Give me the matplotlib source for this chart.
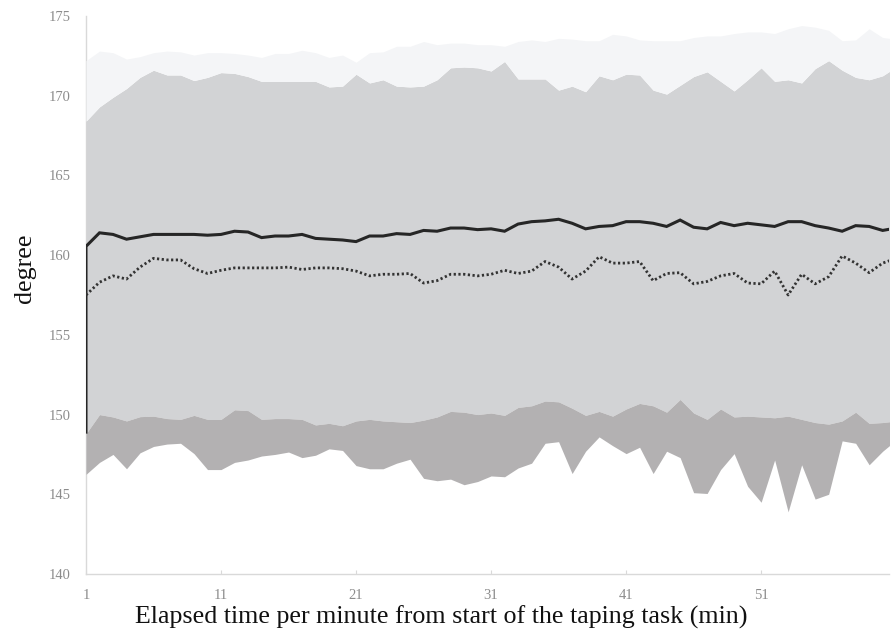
import numpy as np
import matplotlib
matplotlib.use("Agg")
import matplotlib.pyplot as plt

# ---------------- data ----------------
minutes = list(range(1, 62))

light_top = [172.2, 172.8, 172.7, 172.3, 172.45, 172.7, 172.8, 172.75, 172.55, 172.7,
             172.7, 172.65, 172.55, 172.4, 172.65, 172.65, 172.85, 172.7, 172.4, 172.55,
             172.1, 172.7, 172.75, 173.1, 173.1, 173.4, 173.2, 173.3, 173.3, 173.2,
             173.2, 173.1, 173.4, 173.5, 173.4, 173.6, 173.55, 173.45, 173.45, 173.85,
             173.75, 173.5, 173.45, 173.45, 173.45, 173.65, 173.75, 173.75, 173.9, 174.0,
             174.0, 173.9, 174.2, 174.4, 174.3, 174.1, 173.45, 173.5, 174.2, 173.65, 173.55]

mid_top = [168.4, 169.3, 169.9, 170.45, 171.15, 171.6, 171.3, 171.3, 170.95, 171.15,
           171.45, 171.4, 171.2, 170.9, 170.9, 170.9, 170.9, 170.9, 170.55, 170.6,
           171.35, 170.8, 171.0, 170.6, 170.55, 170.6, 171.0, 171.75, 171.8, 171.75,
           171.55, 172.15, 171.05, 171.05, 171.05, 170.35, 170.6, 170.25, 171.25, 171.0,
           171.35, 171.3, 170.35, 170.1, 170.65, 171.2, 171.5, 170.9, 170.3, 171.0,
           171.75, 170.9, 171.0, 170.8, 171.7, 172.2, 171.6, 171.15, 171.0, 171.25, 171.8]

mean_line = [160.55, 161.4, 161.3, 161.0, 161.15, 161.3, 161.3, 161.3, 161.3, 161.25,
             161.3, 161.5, 161.45, 161.1, 161.2, 161.2, 161.3, 161.05, 161.0, 160.95,
             160.85, 161.2, 161.2, 161.35, 161.3, 161.55, 161.5, 161.7, 161.7, 161.6,
             161.65, 161.5, 161.95, 162.1, 162.15, 162.25, 162.0, 161.65, 161.8, 161.85,
             162.1, 162.1, 162.0, 161.8, 162.2, 161.75, 161.65, 162.05, 161.85, 162.0,
             161.9, 161.8, 162.1, 162.1, 161.85, 161.7, 161.5, 161.85, 161.8, 161.55, 161.7]
mean_start = 148.9

dotted_line = [157.5, 158.3, 158.7, 158.5, 159.25, 159.8, 159.7, 159.7, 159.15, 158.85,
               159.05, 159.2, 159.2, 159.2, 159.2, 159.25, 159.1, 159.2, 159.2, 159.15,
               159.0, 158.7, 158.8, 158.8, 158.85, 158.25, 158.4, 158.8, 158.8, 158.7,
               158.8, 159.05, 158.85, 159.0, 159.6, 159.25, 158.5, 159.0, 159.9, 159.5,
               159.5, 159.6, 158.4, 158.85, 158.9, 158.2, 158.35, 158.7, 158.85, 158.25,
               158.2, 159.0, 157.5, 158.8, 158.2, 158.65, 159.95, 159.5, 158.9, 159.5, 159.8]

dark_top = [148.8, 150.0, 149.85, 149.6, 149.87, 149.9, 149.75, 149.7, 149.95, 149.7,
            149.7, 150.3, 150.25, 149.7, 149.75, 149.75, 149.7, 149.35, 149.45, 149.3,
            149.6, 149.7, 149.6, 149.55, 149.5, 149.65, 149.85, 150.2, 150.15, 150.0,
            150.1, 149.95, 150.45, 150.55, 150.85, 150.8, 150.4, 149.95, 150.2, 149.9,
            150.35, 150.7, 150.55, 150.15, 150.95, 150.1, 149.7, 150.35, 149.85, 149.9,
            149.85, 149.8, 149.9, 149.7, 149.5, 149.4, 149.6, 150.15, 149.45, 149.5, 149.6]

dark_bottom = [146.25, 147.0, 147.5, 146.6, 147.6, 148.0, 148.15, 148.2, 147.55, 146.55,
               146.55, 147.0, 147.15, 147.4, 147.5, 147.65, 147.3, 147.45, 147.85, 147.75,
               146.8, 146.6, 146.6, 146.95, 147.2, 146.0, 145.85, 145.95, 145.6, 145.8,
               146.15, 146.1, 146.65, 146.95, 148.2, 148.3, 146.3, 147.7, 148.6, 148.05,
               147.55, 147.95, 146.3, 147.7, 147.3, 145.1, 145.05, 146.55, 147.55, 145.5,
               144.5, 147.15, 143.9, 146.85, 144.7, 145.0, 148.35, 148.2, 146.85, 147.7, 148.4]

x_ticks = [1, 11, 21, 31, 41, 51]
y_ticks = [140, 145, 150, 155, 160, 165, 170, 175]
x_label = "Elapsed time per minute from start of the taping task (min)"
y_label = "degree"

# ---------------- figure ----------------
serif = ["Liberation Serif", "DejaVu Serif"]
fig = plt.figure(figsize=(8.91, 6.37), dpi=100)
ax = fig.add_axes([86 / 891, 1 - 574 / 637, (889 - 86) / 891, (574 - 16) / 637])

x = np.array(minutes)
ax.fill_between(x, dark_top, mid_top, color="#d2d3d5", lw=0, zorder=1)
ax.fill_between(x, mid_top, light_top, color="#f4f5f7", lw=0, zorder=1)
ax.fill_between(x, dark_bottom, dark_top, color="#b3b1b2", lw=0, zorder=1)

ax.plot(np.r_[x[0], x], np.r_[mean_start, mean_line], color="#262626", lw=2.2,
        solid_joinstyle="miter", zorder=3)
ax.plot(x, dotted_line, color="#333333", lw=2.0, linestyle=(0, (0.8, 0.9)),
        dash_capstyle="butt", zorder=3)

ax.set_xlim(1, 60.47)
ax.set_ylim(140, 175)
ax.set_xticks(x_ticks)
ax.set_yticks(y_ticks)
ax.set_xticklabels([str(t) for t in x_ticks], family=serif, fontsize=10.5, color="#8c8c8c")
ax.set_yticklabels([str(t) for t in y_ticks], family=serif, fontsize=10.5, color="#8c8c8c")
ax.tick_params(axis="x", direction="in", length=3, width=0.8, color="#d9d9d9", pad=11)
ax.tick_params(axis="y", length=0, pad=11)

for s in ["top", "right"]:
    ax.spines[s].set_visible(False)
ax.spines["bottom"].set_color("#d9d9d9")
ax.spines["bottom"].set_linewidth(1.0)
ax.spines["left"].set_color("#d9d9d9")
ax.spines["left"].set_linewidth(1.0)
ax.spines["left"].set_zorder(0.5)
ax.spines["bottom"].set_zorder(0.5)

ax.set_xlabel(x_label, family=serif, fontsize=17, color="#111111")
ax.set_ylabel(y_label, family=serif, fontsize=17, color="#111111")
ax.xaxis.set_label_coords((441.5 - 86) / 803, (574 - 617) / 558)
ax.yaxis.set_label_coords((25 - 86) / 803, (574 - 268) / 558)
ax.xaxis.label.set_va("center")
ax.yaxis.label.set_va("center")

# fit the axis-title width to the reference
fig.canvas.draw()
r = fig.canvas.get_renderer()
w = ax.xaxis.label.get_window_extent(r).width
ax.xaxis.label.set_fontsize(17 * 613 / w)
ax.yaxis.label.set_fontsize(17 * 613 / w)

fig.savefig("out.png", dpi=100, facecolor="white")
